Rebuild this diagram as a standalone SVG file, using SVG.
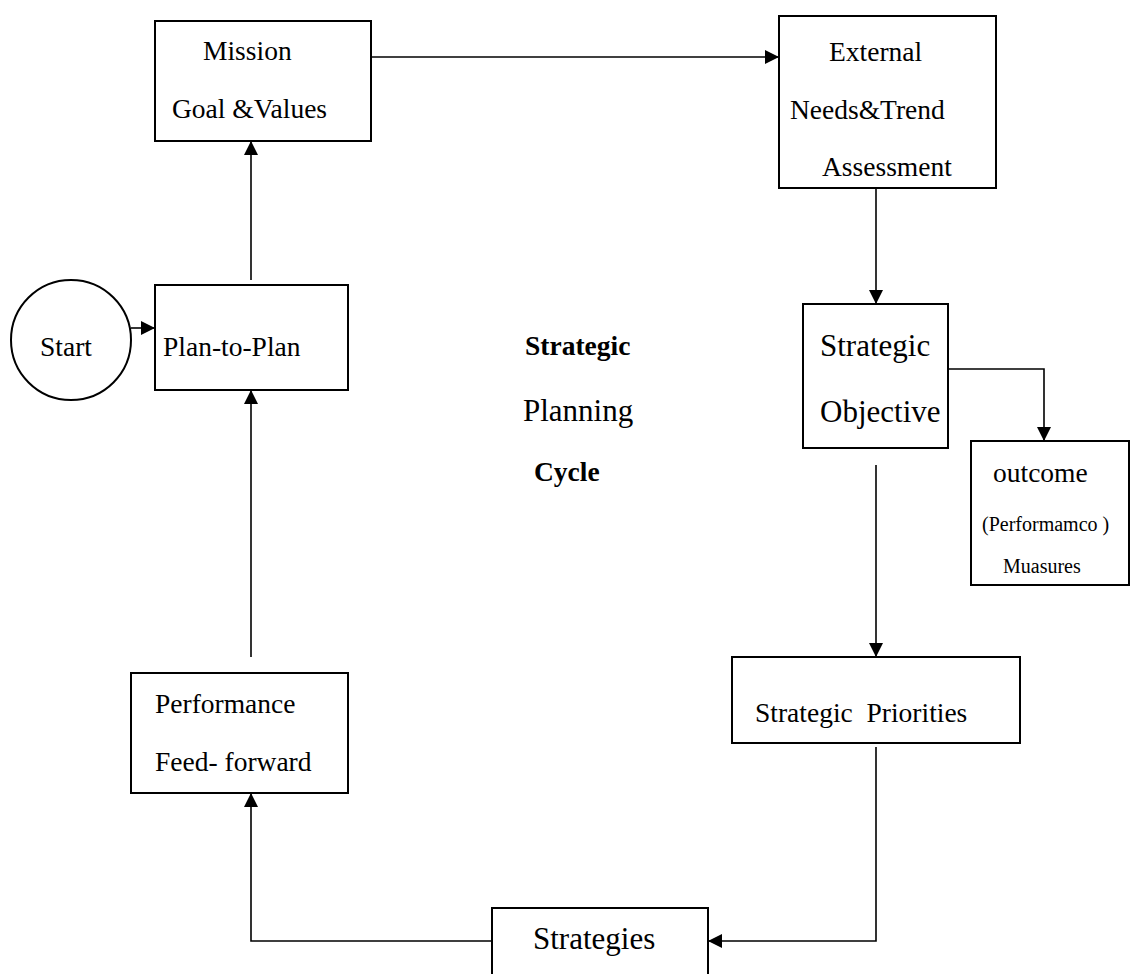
<svg xmlns="http://www.w3.org/2000/svg" width="1130" height="974" viewBox="0 0 1130 974">
  <style>
    .box { fill: #fff; stroke: #000; stroke-width: 2; }
    .t { font-family: "Liberation Serif", "Times New Roman", serif; font-size: 27.5px; fill: #000; }
    .big { font-size: 31px; }
    .small { font-size: 20px; }
    .b { font-weight: bold; }
    .link { fill: none; stroke: #000; stroke-width: 1.6; }
  </style>
  <defs>
    <marker id="arrow" markerWidth="14" markerHeight="14" refX="14" refY="7" orient="auto" markerUnits="userSpaceOnUse">
      <path d="M0,0 L14,7 L0,14 Z" fill="#000"/>
    </marker>
  </defs>
  <rect width="1130" height="974" fill="#fff"/>

  <!-- connectors -->
  <g id="connectors">
    <line class="link" x1="371" y1="57" x2="779" y2="57" marker-end="url(#arrow)"/>
    <line class="link" x1="876" y1="183" x2="876" y2="304" marker-end="url(#arrow)"/>
    <polyline class="link" points="948,369 1044,369 1044,441" marker-end="url(#arrow)"/>
    <line class="link" x1="876" y1="465" x2="876" y2="657" marker-end="url(#arrow)"/>
    <polyline class="link" points="876,747 876,941 708,941" marker-end="url(#arrow)"/>
    <polyline class="link" points="492,941 251,941 251,793" marker-end="url(#arrow)"/>
    <line class="link" x1="251" y1="657" x2="251" y2="390" marker-end="url(#arrow)"/>
    <line class="link" x1="251" y1="280" x2="251" y2="141" marker-end="url(#arrow)"/>
    <line class="link" x1="131" y1="328" x2="155" y2="328" marker-end="url(#arrow)"/>
  </g>

  <g id="start">
    <circle class="box" cx="71" cy="340" r="60"/>
    <text class="t" x="40" y="356">Start</text>
  </g>

  <g id="plan-to-plan">
    <rect class="box" x="155" y="285" width="193" height="105"/>
    <text class="t" x="163" y="356">Plan-to-Plan</text>
  </g>

  <g id="mission">
    <rect class="box" x="155" y="21" width="216" height="120"/>
    <text class="t" x="203" y="60">Mission</text>
    <text class="t" x="172" y="118">Goal &amp;Values</text>
  </g>

  <g id="external">
    <rect class="box" x="779" y="16" width="217" height="172"/>
    <text class="t" x="829" y="61">External</text>
    <text class="t" x="790" y="119">Needs&amp;Trend</text>
    <text class="t" x="822" y="176">Assessment</text>
  </g>

  <g id="strategic-objective">
    <rect class="box" x="803" y="304" width="145" height="144"/>
    <text class="t big" x="820" y="356">Strategic</text>
    <text class="t big" x="820" y="422">Objective</text>
  </g>

  <g id="outcome">
    <rect class="box" x="971" y="441" width="158" height="144"/>
    <text class="t" x="993" y="482">outcome</text>
    <text class="t small" x="982" y="531">(Performamco )</text>
    <text class="t small" x="1003" y="573">Muasures</text>
  </g>

  <g id="strategic-priorities">
    <rect class="box" x="732" y="657" width="288" height="86"/>
    <text class="t" x="755" y="722" xml:space="preserve">Strategic  Priorities</text>
  </g>

  <g id="strategies">
    <rect class="box" x="492" y="908" width="216" height="80"/>
    <text class="t big" x="533" y="949">Strategies</text>
  </g>

  <g id="performance">
    <rect class="box" x="131" y="673" width="217" height="120"/>
    <text class="t" x="155" y="713">Performance</text>
    <text class="t" x="155" y="771">Feed- forward</text>
  </g>

  <g id="cycle-title">
    <text class="t b" x="525" y="355" font-size="30">Strategic</text>
    <text class="t big" x="523" y="421">Planning</text>
    <text class="t b" x="534" y="481">Cycle</text>
  </g>
</svg>
